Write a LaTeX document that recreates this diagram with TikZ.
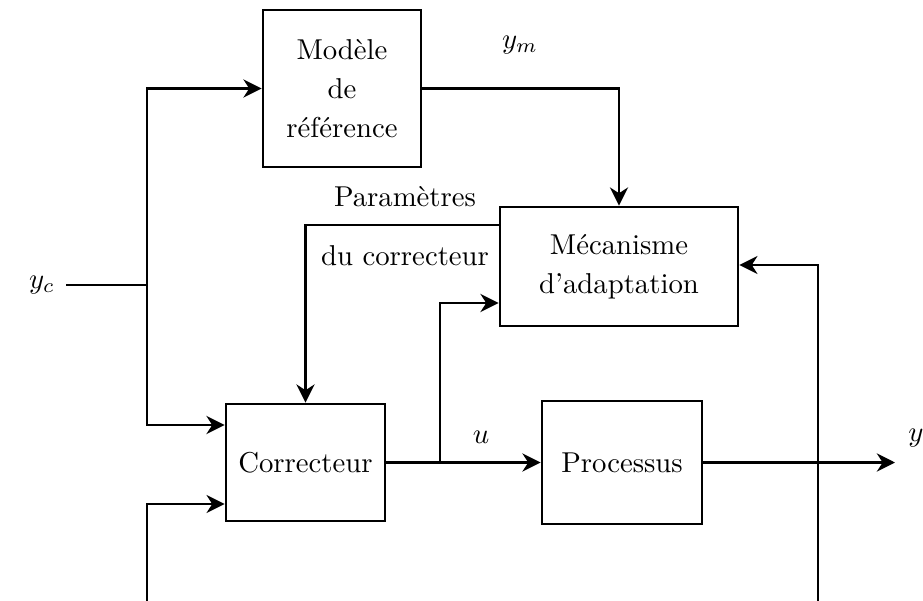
\documentclass[tikz,border=0pt]{standalone}
\usetikzlibrary{arrows.meta,calc}
\begin{document}
\begin{tikzpicture}[x=0.348pt,y=-0.348pt,
  blk/.style={draw,line width=1pt,inner sep=0pt,align=center,
    execute at begin node=\setlength{\baselineskip}{13.5pt}},
  sig/.style={line width=1pt,-{Stealth[length=6.3pt,width=6.3pt,inset=2pt]}},
  fb/.style={line width=0.55pt,-{Stealth[length=6.3pt,width=6.3pt,inset=2pt]}},
  fbline/.style={line width=0.55pt},
  lbl/.style={inner sep=0pt}]
\useasboundingbox (0,0) rectangle (923,601);
\clip (0,0) rectangle (923,601);

% blocks
\node[blk,minimum width=158*0.348pt,minimum height=157*0.348pt] (mod) at (342,88.5) {Modèle\\de\\référence};
\node[blk,minimum width=238*0.348pt,minimum height=119*0.348pt] (mec) at (619,266.5) {Mécanisme\\d'adaptation};
\node[blk,minimum width=159*0.348pt,minimum height=117*0.348pt] (cor) at (305.5,462.5) {Correcteur};
\node[blk,minimum width=160*0.348pt,minimum height=123*0.348pt] (proc) at (622,462.5) {Processus};

% labels
\node[lbl] (yc) at (42,285) {$y_c$};
\node[lbl] (ym) at (520,45) {$y_m$};
\node[lbl] (par1) at (405,197) {Paramètres};
\node[lbl] (par2) at (405,256) {du correcteur};
\node[lbl] (ul) at (481,437) {$u$};
\node[lbl] (yl) at (916,438) {$y$};

% junction points and free ends
\coordinate (yin) at (66,285);
\coordinate (split) at (147,285);
\coordinate (br) at (440,462.5);
\coordinate (yout) at (895,462.5);
\coordinate (fbR) at (818,603);
\coordinate (fbL) at (147,603);

% reference input
\draw[line width=1pt] (yin) -- (split);
\draw[sig] (split) |- (mod.west);
\draw[sig] (split) |- ($(cor.west)+(0,-37.5)$);

% model output to adaptation
\draw[sig] (mod.east) -| (mec.north);

% controller parameters
\draw[sig] ($(mec.west)+(0,-41.5)$) -| (cor.north);

% control signal
\draw[sig] (cor.east) -- (proc.west);
\draw[sig] (br) |- ($(mec.west)+(0,36.5)$);

% plant output
\draw[sig] (proc.east) -- (yout);

% feedback of the output
\draw[fb] (fbR) |- ($(mec.east)+(0,-1.5)$);
\draw[fbline] (fbR) -- (fbL);
\draw[fb] (fbL) |- ($(cor.west)+(0,41.5)$);
\end{tikzpicture}
\end{document}
